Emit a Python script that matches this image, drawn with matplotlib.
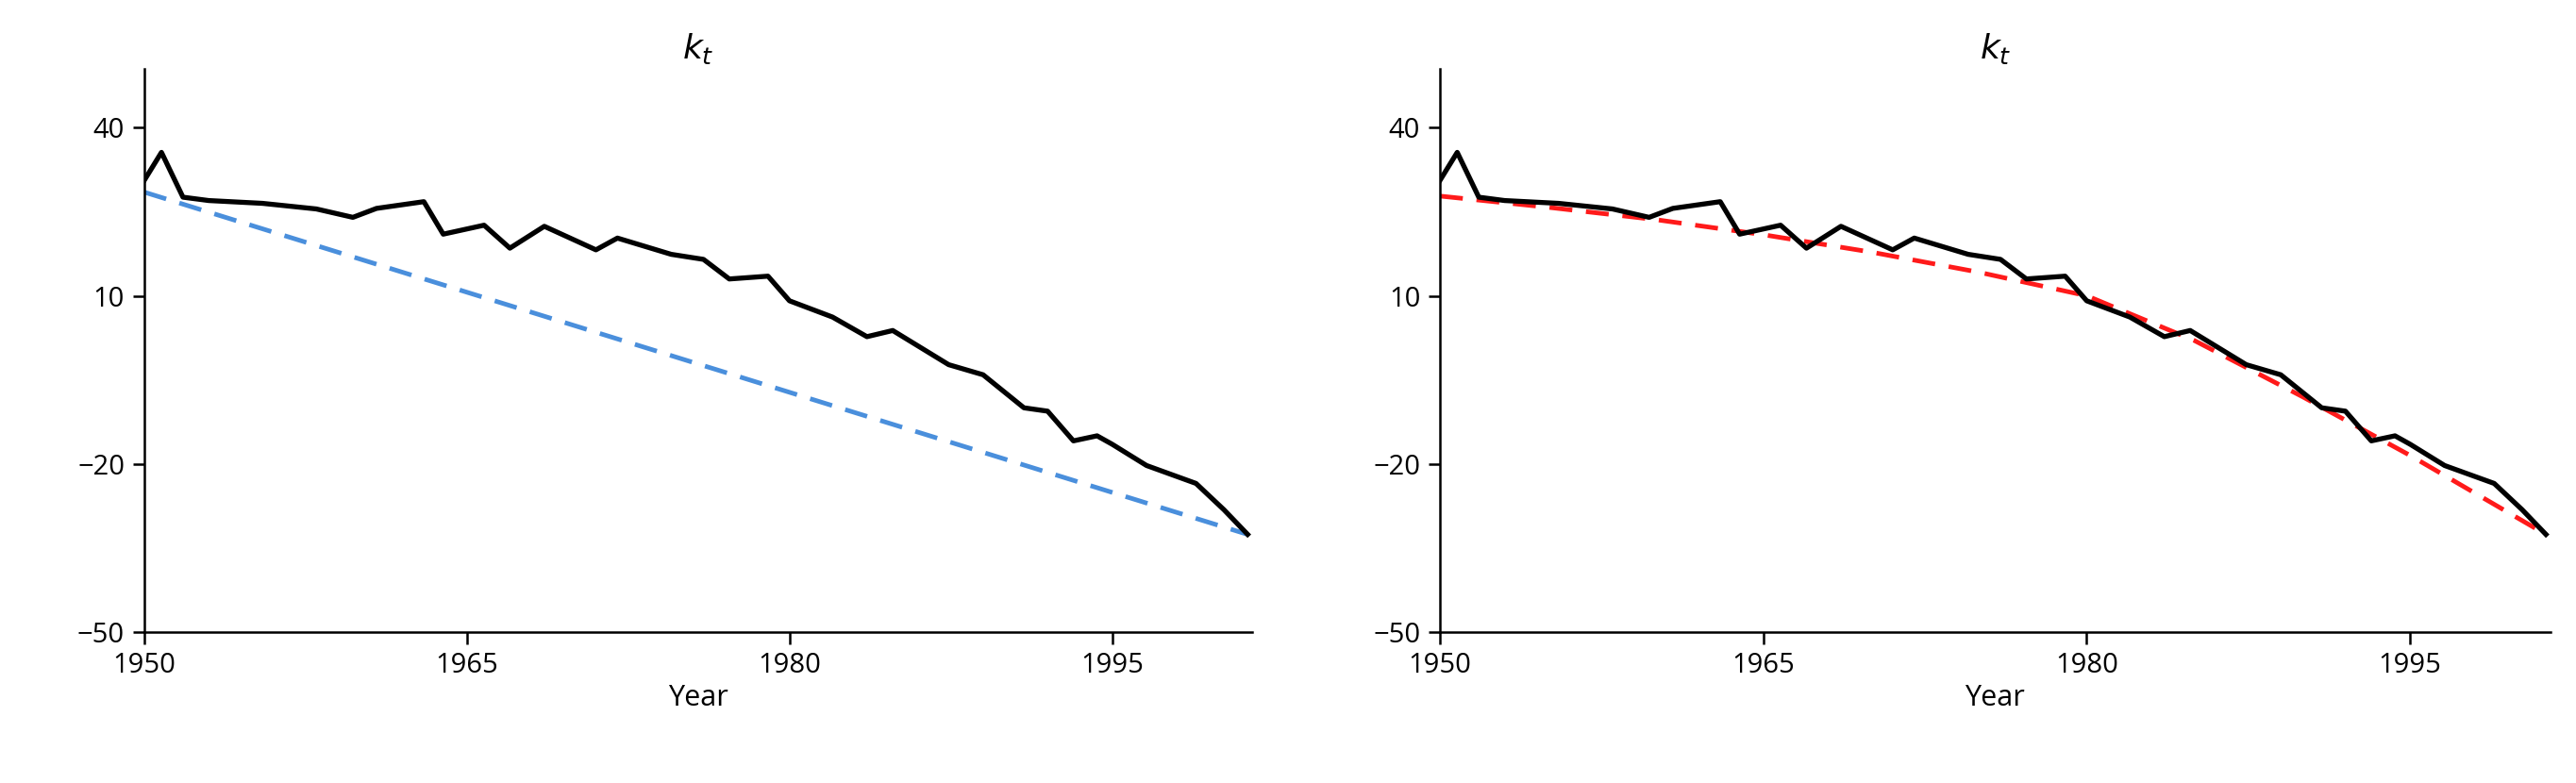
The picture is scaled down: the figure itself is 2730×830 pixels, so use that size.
import matplotlib
matplotlib.use('Agg')
import matplotlib.pyplot as plt

plt.rcParams['font.family'] = ['Open Sans', 'DejaVu Sans']

#  k_t
years = [1950, 1950.8, 1951.8, 1953, 1955.5, 1958, 1959.7, 1960.8, 1963, 1963.9,
         1965.8, 1967, 1968.6, 1971, 1972, 1974.5, 1976, 1977.2, 1979, 1980,
         1982, 1983.6, 1984.8, 1987.4, 1989, 1990.9, 1992, 1993.2, 1994.3, 1995,
         1996.6, 1998.9, 2000.2, 2001.3]
kt = [30.6, 35.6, 27.6, 27.0, 26.5, 25.5, 24.0, 25.6, 26.8, 21.0,
      22.6, 18.5, 22.4, 18.2, 20.3, 17.4, 16.5, 13.0, 13.5, 9.1,
      6.2, 2.7, 3.8, -2.3, -4.1, -10.0, -10.6, -15.9, -15.0, -16.5,
      -20.3, -23.5, -28.2, -32.6]

#  linear fit (left) and curved fit (right)
lin_years = [1950, 2001.3]
lin_vals = [28.5, -32.6]
fit_years = [1950, 1955, 1960, 1965, 1970, 1975, 1980, 1985, 1990, 1995, 2001.3]
fit_vals = [27.8, 25.8, 23.6, 20.9, 17.8, 14.2, 10.0, 2.0, -8.0, -18.5, -32.6]

fig = plt.figure(figsize=(27.3, 8.3), dpi=100)
ax1 = fig.add_axes([0.056, 0.193, 0.430, 0.719])
ax2 = fig.add_axes([0.559, 0.193, 0.431, 0.719])

ax1.plot(lin_years, lin_vals, color='#4a8fdc', linestyle=(0, (5, 3)), linewidth=3.5)
ax2.plot(fit_years, fit_vals, color='#ff1a1a', linestyle=(0, (5, 3)), linewidth=3.5)

for ax in (ax1, ax2):
    ax.plot(years, kt, color='black', linewidth=3.8, solid_joinstyle='round')
    ax.set_xlim(1950, 2001.5)
    ax.set_ylim(-50, 50.5)
    ax.set_xticks([1950, 1965, 1980, 1995])
    ax.set_yticks([40, 10, -20, -50])
    ax.set_yticklabels(['40', '10', '\u221220', '\u221250'])
    ax.spines['top'].set_visible(False)
    ax.spines['right'].set_visible(False)
    ax.spines['left'].set_linewidth(1.8)
    ax.spines['bottom'].set_linewidth(1.8)
    ax.tick_params(labelsize=21, width=1.8, length=9, pad=6)
    ax.set_xlabel('Year', fontsize=22, labelpad=4)
    ax.set_title('$k_t$', fontsize=26, pad=8)

fig.savefig('out.png', dpi=100)
